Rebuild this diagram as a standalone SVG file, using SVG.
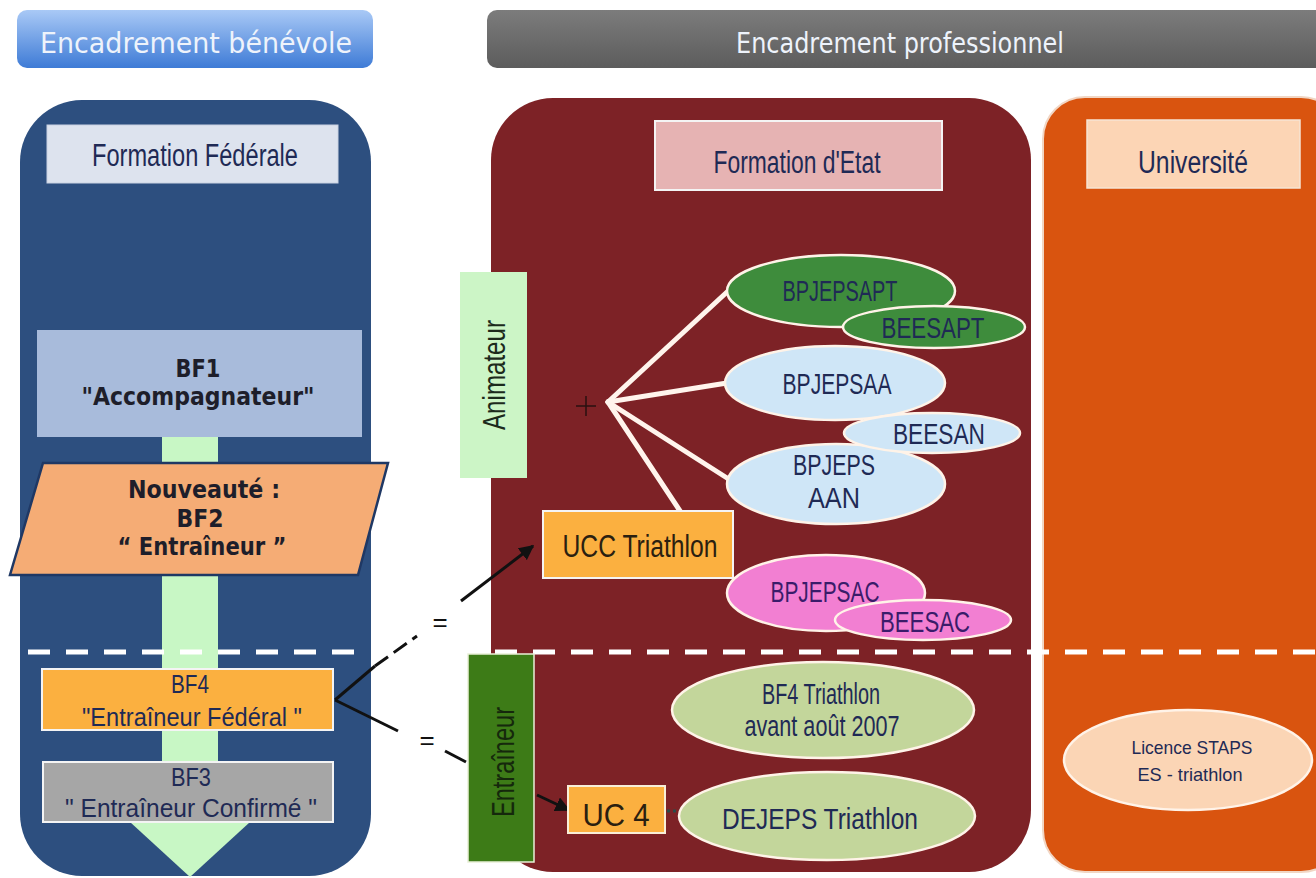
<svg xmlns="http://www.w3.org/2000/svg" width="1316" height="878" viewBox="0 0 1316 878">
<defs>
<linearGradient id="gBlue" x1="0" y1="0" x2="0" y2="1">
<stop offset="0" stop-color="#a9c9f6"/><stop offset="1" stop-color="#3e7bd6"/>
</linearGradient>
<linearGradient id="gGrey" x1="0" y1="0" x2="0" y2="1">
<stop offset="0" stop-color="#7c7c7c"/><stop offset="1" stop-color="#5c5c5c"/>
</linearGradient>
<marker id="ah" viewBox="0 0 10 10" refX="9" refY="5" markerWidth="5" markerHeight="5" orient="auto">
<path d="M0,0 L10,5 L0,10 z" fill="#111"/>
</marker>
<marker id="ah2" viewBox="0 0 10 10" refX="9" refY="5" markerWidth="5" markerHeight="5" orient="auto">
<path d="M0,0 L10,5 L0,10 z" fill="#2c4a48"/>
</marker>
</defs>
<style>
text{font-family:"Liberation Sans",Arial,sans-serif;text-anchor:middle;fill:#1f2a55}
.hd{font-family:"DejaVu Sans",Verdana,sans-serif;font-size:28px;fill:#eef3fb}
.lbl{font-size:31px}
.bx{font-size:26px}
.el{font-size:29px}
.sm{font-size:19px}
.eq{font-size:26px;fill:#111}
.bold{font-family:"DejaVu Sans",Verdana,sans-serif;font-weight:bold;font-size:24px;fill:#1e1e2a}
.box{stroke:#f4f4f4;stroke-width:2}
.ell{stroke:#fff3e8;stroke-width:2.5}
.dash{stroke:#ffffff;stroke-width:5;stroke-dasharray:22 16;fill:none}
.wl{stroke:#fff4ec;stroke-width:5;fill:none;stroke-linecap:round}
.cn{stroke:#111;stroke-width:3;fill:none}
</style>
<rect width="1316" height="878" fill="#ffffff"/>

<g id="title-benevole">
<rect x="17" y="10" width="356" height="58" rx="10" fill="url(#gBlue)"/>
<text class="hd" x="196" y="53" textLength="312" lengthAdjust="spacingAndGlyphs">Encadrement bénévole</text>
</g>
<g id="title-professionnel">
<rect x="487" y="10" width="850" height="58" rx="10" fill="url(#gGrey)"/>
<text class="hd" x="900" y="53" textLength="328" lengthAdjust="spacingAndGlyphs">Encadrement professionnel</text>
</g>

<g id="panel-federale">
<rect x="20" y="100" width="351" height="776" rx="62" fill="#2d4f7f"/>
<rect x="47" y="125" width="291" height="58" fill="#dde3ee" stroke="#c9d2e2" stroke-width="1"/>
<text class="lbl" x="195" y="166" textLength="206" lengthAdjust="spacingAndGlyphs">Formation Fédérale</text>
</g>
<g id="progress-arrow">
<rect x="162" y="437" width="56" height="386" fill="#c8f7c5"/>
<polygon points="130,822 250,822 190,877" fill="#c8f7c5"/>
</g>
<line class="dash" x1="28" y1="652" x2="364" y2="652"/>

<g id="bf1">
<rect x="37" y="330" width="325" height="107" fill="#a8bbdb"/>
<text class="bold" x="198" y="377" textLength="45" lengthAdjust="spacingAndGlyphs">BF1</text>
<text class="bold" x="198" y="405" textLength="233" lengthAdjust="spacingAndGlyphs">"Accompagnateur"</text>
</g>
<g id="bf2">
<polygon points="43,463 388,463 358,575 10,575" fill="#f5ac75" stroke="#1f3864" stroke-width="2.5"/>
<text class="bold" x="204" y="498" textLength="152" lengthAdjust="spacingAndGlyphs">Nouveauté :</text>
<text class="bold" x="200" y="527" textLength="47" lengthAdjust="spacingAndGlyphs">BF2</text>
<text class="bold" x="202" y="555" textLength="169" lengthAdjust="spacingAndGlyphs">“ Entraîneur ”</text>
</g>
<g id="bf4">
<rect class="box" x="42" y="669" width="291" height="61" fill="#fbb040"/>
<text class="bx" x="190" y="693" textLength="38" lengthAdjust="spacingAndGlyphs">BF4</text>
<text class="bx" x="192" y="726" textLength="220" lengthAdjust="spacingAndGlyphs">"Entraîneur Fédéral "</text>
</g>
<g id="bf3">
<rect class="box" x="43" y="762" width="290" height="60" fill="#a6a6a6"/>
<text class="bx" x="191" y="786" textLength="40" lengthAdjust="spacingAndGlyphs">BF3</text>
<text class="bx" x="191" y="817" textLength="252" lengthAdjust="spacingAndGlyphs">" Entraîneur Confirmé "</text>
</g>

<g id="panel-etat">
<rect x="491" y="98" width="540" height="774" rx="62" fill="#7d2226"/>
<rect class="box" x="655" y="121" width="287" height="69" fill="#e6b3b3"/>
<text class="lbl" x="797" y="173" textLength="167" lengthAdjust="spacingAndGlyphs">Formation d'Etat</text>
</g>
<g id="panel-universite">
<rect x="1043" y="97" width="300" height="775" rx="42" fill="#d9540f" stroke="#f1d6c4" stroke-width="2"/>
<rect x="1087" y="120" width="213" height="68" fill="#fcd5b5" stroke="#f6e4d4" stroke-width="1.5"/>
<text class="lbl" x="1193" y="173" textLength="110" lengthAdjust="spacingAndGlyphs">Université</text>
</g>
<line class="dash" x1="495" y1="652" x2="1316" y2="652"/>

<g id="connectors">
<line class="wl" x1="608" y1="402" x2="727" y2="292"/>
<line class="wl" x1="608" y1="402" x2="727" y2="383"/>
<line class="wl" x1="608" y1="402" x2="727" y2="478"/>
<line class="wl" x1="608" y1="402" x2="680" y2="511"/>
<path class="cn" d="M335,700 L375,666"/>
<path class="cn" d="M375,666 L417,636" stroke-dasharray="16 7"/>
<path class="cn" d="M461,601 L533,546" marker-end="url(#ah)"/>
<path class="cn" d="M335,700 L398,731"/>
<path class="cn" d="M445,751 L466,762"/>
<path class="cn" d="M537,795 L569,810" marker-end="url(#ah)"/>
<path d="M667,811 L697,811" stroke="#2c4a48" stroke-width="3" stroke-dasharray="3 3" fill="none" marker-end="url(#ah2)"/>
<text class="eq" x="440" y="631">=</text>
<text class="eq" x="427" y="749">=</text>
<path d="M576,406 H596 M586,396 V416" stroke="#2a1010" stroke-width="1.5"/>
</g>

<g id="animateur">
<rect x="460" y="272" width="67" height="206" fill="#ccf5c6"/>
<text class="lbl" transform="translate(505,375) rotate(-90)" x="0" y="0" textLength="110" lengthAdjust="spacingAndGlyphs" style="fill:#1c2a1c">Animateur</text>
</g>
<g id="entraineur">
<rect x="468" y="654" width="66" height="208" fill="#3d7b17" stroke="#e9efd8" stroke-width="1.5"/>
<text class="lbl" transform="translate(514,762) rotate(-90)" x="0" y="0" textLength="110" lengthAdjust="spacingAndGlyphs" style="fill:#15280c">Entraîneur</text>
</g>

<g id="bpjepsapt">
<ellipse class="ell" cx="841" cy="291" rx="114" ry="36" fill="#3e8c3c"/>
<text class="el" x="840" y="301" textLength="115" lengthAdjust="spacingAndGlyphs">BPJEPSAPT</text>
</g>
<g id="beesapt">
<ellipse class="ell" cx="934" cy="327" rx="91" ry="21" fill="#3e8c3c"/>
<text class="el" x="933" y="338" textLength="103" lengthAdjust="spacingAndGlyphs">BEESAPT</text>
</g>
<g id="bpjepsaa">
<ellipse class="ell" cx="835" cy="383" rx="110" ry="37" fill="#cfe6f7"/>
<text class="el" x="837" y="394" textLength="109" lengthAdjust="spacingAndGlyphs">BPJEPSAA</text>
</g>
<g id="bpjepsaan">
<ellipse class="ell" cx="836" cy="484" rx="109" ry="40" fill="#cfe6f7"/>
<text class="el" x="834" y="475" textLength="82" lengthAdjust="spacingAndGlyphs">BPJEPS</text>
<text class="el" x="834" y="508" textLength="52" lengthAdjust="spacingAndGlyphs">AAN</text>
</g>
<g id="beesan">
<ellipse class="ell" cx="932" cy="433" rx="88" ry="20" fill="#cfe6f7"/>
<text class="el" x="939" y="444" textLength="92" lengthAdjust="spacingAndGlyphs">BEESAN</text>
</g>
<g id="ucc">
<rect class="box" x="543" y="511" width="190" height="67" fill="#fbb040"/>
<text class="lbl" x="640" y="557" textLength="155" lengthAdjust="spacingAndGlyphs" style="fill:#2a2010">UCC Triathlon</text>
</g>
<g id="bpjepsac">
<ellipse class="ell" cx="826" cy="593" rx="99" ry="38" fill="#f27fd2"/>
<text class="el" x="825" y="602" textLength="109" lengthAdjust="spacingAndGlyphs" style="fill:#3a1c6a">BPJEPSAC</text>
</g>
<g id="beesac">
<ellipse class="ell" cx="923" cy="620" rx="88" ry="20" fill="#f27fd2"/>
<text class="el" x="925" y="632" textLength="90" lengthAdjust="spacingAndGlyphs" style="fill:#3a1c6a">BEESAC</text>
</g>
<g id="bf4-triathlon">
<ellipse class="ell" cx="823" cy="710" rx="151" ry="48" fill="#c3d69b"/>
<text class="el" x="821" y="704" textLength="118" lengthAdjust="spacingAndGlyphs">BF4 Triathlon</text>
<text class="el" x="822" y="736" textLength="155" lengthAdjust="spacingAndGlyphs">avant août 2007</text>
</g>
<g id="uc4">
<rect x="568" y="786" width="97" height="47" fill="#fbb040" stroke="#f8efd8" stroke-width="2"/>
<text class="lbl" x="616" y="826" textLength="67" lengthAdjust="spacingAndGlyphs" style="fill:#2a2010">UC 4</text>
</g>
<g id="dejeps">
<ellipse class="ell" cx="827" cy="816" rx="148" ry="44" fill="#c3d69b"/>
<text class="el" x="820" y="829" textLength="196" lengthAdjust="spacingAndGlyphs">DEJEPS Triathlon</text>
</g>
<g id="licence-staps">
<ellipse class="ell" cx="1188" cy="760" rx="124" ry="50" fill="#fbd5b5"/>
<text class="sm" x="1192" y="754" textLength="121" lengthAdjust="spacingAndGlyphs">Licence STAPS</text>
<text class="sm" x="1190" y="781" textLength="105" lengthAdjust="spacingAndGlyphs">ES - triathlon</text>
</g>
</svg>
